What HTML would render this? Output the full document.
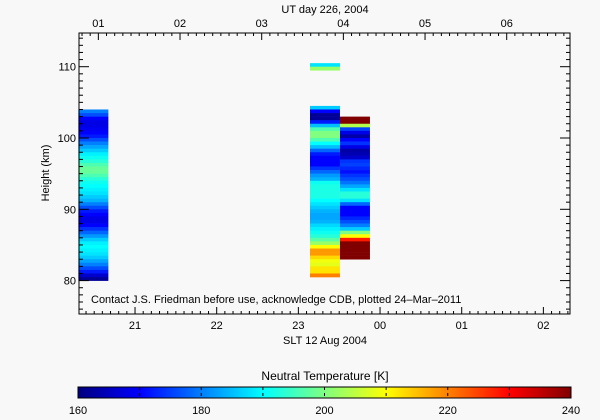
<!DOCTYPE html>
<html><head><meta charset="utf-8"><style>
body{margin:0;background:#f8f8f8;}
svg{display:block;font-family:"Liberation Sans",sans-serif;}
</style></head><body>
<svg id="c" width="600" height="420" xmlns="http://www.w3.org/2000/svg">
<rect width="600" height="420" fill="#f8f8f8"/>
</svg>
<script>
// data
const colTimes = [20.49, 23.326, 23.693]; // SLT hours (column centers)
const colTops = [103.5, 110, 102.5];      // bottom height of top bin
const col1Temps = [180,176,170,168,168,169,170,172,176,180,183,186,189,191,193,196,198,198,196,193,191,190,189,188,186,184,180,176,172,170,168,168,170,174,178,182,186,189,190,189,188,186,183,180,176,172,166,162];
const col2Temps = [188,202,null,null,null,null,null,null,null,null,null,null,186,170,162,162,172,185,196,200,200,196,190,185,178,172,170,170,170,174,178,182,184,191,192,192,192,192,190,188,186,184,183,183,184,187,189,191,193,197,202,210,218,218,213,209,208,212,212,220];
const col3Temps = [240,240,204,175,168,163,170,174,168,163,164,166,174,175,173,171,174,176,179,183,188,193,193,188,178,170,170,170,173,176,180,186,200,210,228,240,240,240,240,240];
const cbTicks = [160,180,200,220,240];
const sltTicks = [21,22,23,0,1,2];
const utTicks = [1,2,3,4,5,6];
const yTicks = [80,90,100,110];
const binH = 0.5, colW = 0.367, tMin = 160, tMax = 240;

const NS="http://www.w3.org/2000/svg", svg=document.getElementById('c');
const X0=79,X1=570,Y0=33,Y1=314, pxPerH=81.67, xStart=20.314;
const xs = t => X0 + (t - xStart)*pxPerH;
const ys = h => 66.7 + (110 - h)*7.13;
const utOffset = 4.449;
function jet(v){v=Math.max(0,Math.min(1,v));
 const f=(x)=>Math.max(0,Math.min(1,x));
 const r=f(Math.min(4*v-1.5,-4*v+4.5)),g=f(Math.min(4*v-0.5,-4*v+3.5)),b=f(Math.min(4*v+0.5,-4*v+2.5));
 return `rgb(${Math.round(r*255)},${Math.round(g*255)},${Math.round(b*255)})`;}
const tcol = T => jet((T-tMin)/(tMax-tMin));
function mk(tag,a,parent){const e=document.createElementNS(NS,tag);for(const k in a)e.setAttribute(k,a[k]);(parent||svg).appendChild(e);return e;}

// columns
const cols=[col1Temps,col2Temps,col3Temps];
cols.forEach((arr,ci)=>{
 const g=mk('g',{});
 
 
 const xa=xs(colTimes[ci]-colW/2), xb=xs(colTimes[ci]+colW/2);
 arr.forEach((T,i)=>{ if(T===null) return;
  const hb=colTops[ci]-i*binH;
  const r=mk('rect',{x:xa.toFixed(2),y:ys(hb+binH).toFixed(2),width:(xb-xa).toFixed(2),height:(ys(hb)-ys(hb+binH)+0.3).toFixed(2),fill:tcol(T)},g);
  
  
 });
});

// frame
const fr=mk('rect',{x:X0,y:Y0,width:X1-X0,height:Y1-Y0,fill:'none',stroke:'#000','stroke-width':1});


const ax=mk('g',{stroke:'#000','stroke-width':1});


for(let m=Math.ceil((xStart)*10);;m++){const t=m/10,x=xs(t);if(x>X1)break;const maj=m%10===0;
 mk('line',{x1:x,x2:x,y1:Y1,y2:Y1-(maj?7:3)},ax);}
for(let m=-100;m<200;m++){const x=X0+((1-utOffset+24)-xStart)*pxPerH+ (m/10)*pxPerH; if(x<X0||x>X1)continue;const maj=((m%10)+10)%10===0;
 mk('line',{x1:x,x2:x,y1:Y0,y2:Y0+(maj?7:3)},ax);}
for(let h=76;h<=114;h++){const y=ys(h);const maj=h%10===0;
 mk('line',{x1:X0,x2:X0+(maj?10:4),y1:y,y2:y},ax);
 mk('line',{x1:X1,x2:X1-(maj?10:4),y1:y,y2:y},ax);}
function txt(s,x,y,a,name,extra){const e=mk('text',Object.assign({x:x,y:y,'font-size':11,'text-anchor':a||'middle',fill:'#000'},extra||{}));e.textContent=s;
 
 return e;}
sltTicks.forEach(h=>{const t=h<12?h+24:h;txt(String(h).padStart(2,'0'),xs(t),329,'middle','slt-tick-label');});
utTicks.forEach(h=>{const x=X0+((h-utOffset+24)-xStart)*pxPerH;txt(String(h).padStart(2,'0'),x,27,'middle','ut-tick-label');});
yTicks.forEach(h=>txt(String(h),X0-3,ys(h)+4,'end','y-tick-label'));
txt('UT day 226, 2004',325,13,'middle','top-axis-title');
txt('SLT 12 Aug 2004',325,344,'middle','x-axis-title');
txt('Height (km)',0,0,'middle','y-axis-title',{transform:'translate(49,173) rotate(-90)'});
txt('Contact J.S. Friedman before use, acknowledge CDB, plotted 24\u2013Mar\u20132011',91,303,'start','credit-note');

// colorbar
const CB0=78,CB1=571,CBy=387,CBh=11;
const cbg=mk('g',{});


for(let i=0;i<CB1-CB0;i++){mk('rect',{x:CB0+i,y:CBy,width:1.5,height:CBh,fill:jet(i/(CB1-CB0))},cbg);}
mk('rect',{x:CB0,y:CBy,width:CB1-CB0,height:CBh,fill:'none',stroke:'#000','stroke-width':1},cbg);
const cbx=T=>CB0+(T-tMin)/(tMax-tMin)*(CB1-CB0);
for(let T=170;T<240;T+=10){mk('line',{x1:cbx(T),x2:cbx(T),y1:CBy,y2:CBy+CBh,stroke:'#000','stroke-dasharray':'3,3'},cbg);}
cbTicks.forEach(T=>txt(String(T),cbx(T),414,'middle','colorbar-tick-label'));
txt('Neutral Temperature [K]',325,380,'middle','colorbar-title',{'font-size':12});
</script>
</body></html>
